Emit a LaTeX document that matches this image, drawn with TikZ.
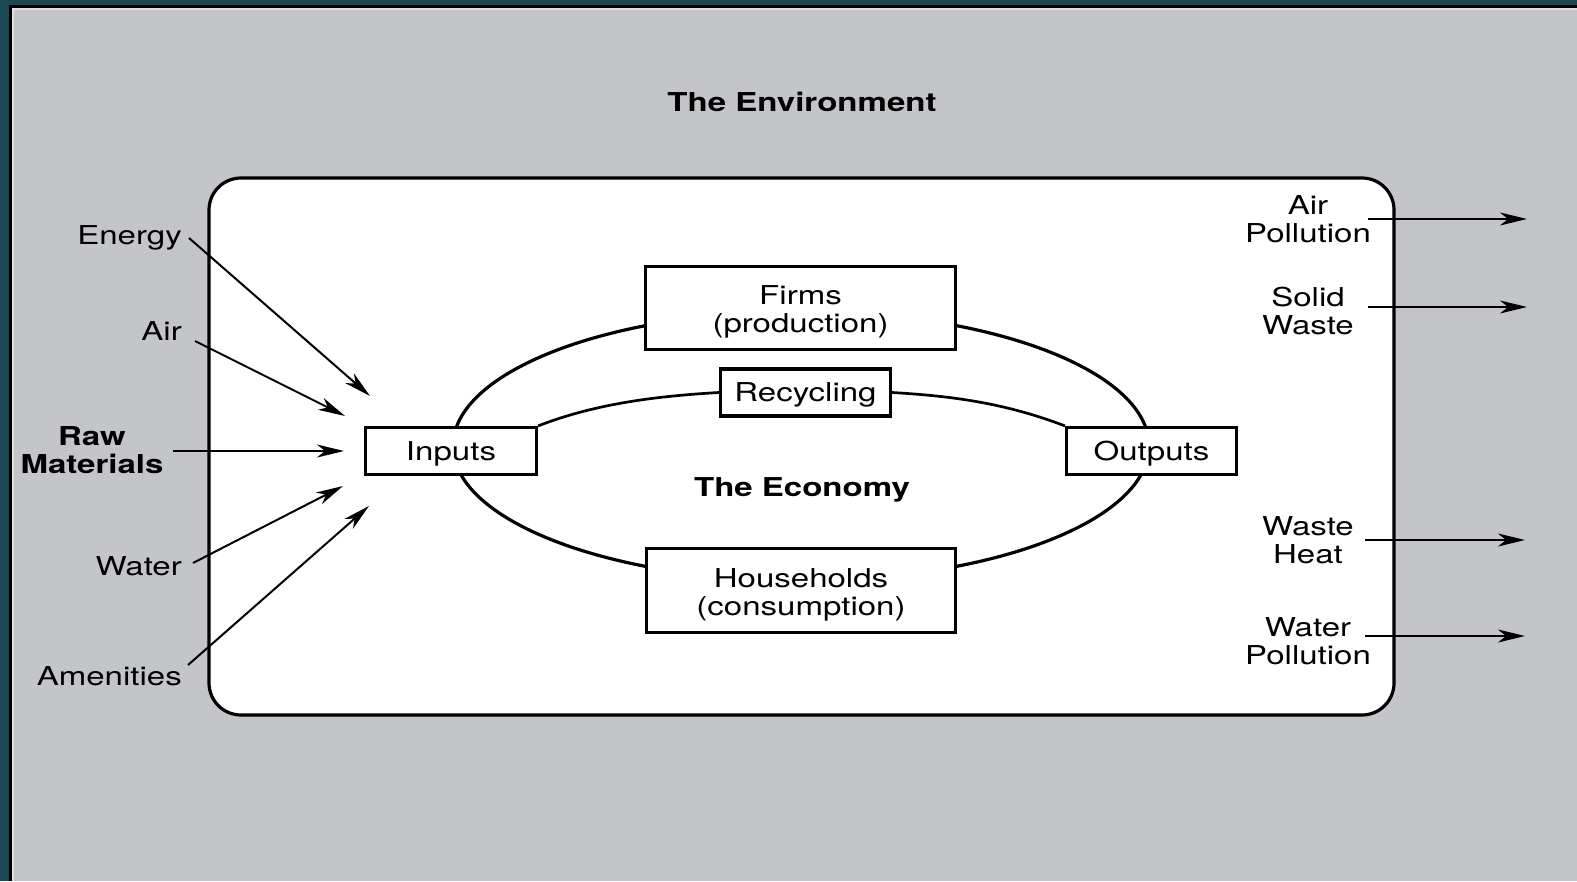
\documentclass[tikz,border=0pt]{standalone}
\usepackage{fontspec}
\setmainfont{TeX Gyre Heros}[FakeStretch=1.27]
\usetikzlibrary{arrows.meta}
\definecolor{panel}{RGB}{196,197,201}
\definecolor{frame}{RGB}{26,72,82}
% taller first line, so that two-line box texts sit centred on their caps
\newcommand\firstlinestrut{\rule{0pt}{27pt}}

\begin{document}
\begin{tikzpicture}[x=1pt,y=-1pt,
  basefont/.style={font=\fontsize{26}{28.2}\selectfont},
  lbl/.style={basefont, inner sep=0pt, align=center},
  boldlbl/.style={font=\fontsize{26}{28.2}\selectfont\bfseries, inner sep=0pt, align=center},
  oneline/.style={text height=18.7pt, text depth=0pt},
  box/.style={draw, line width=3.2pt, fill=white, inner sep=0pt, align=center, basefont},
  flow/.style={line width=2pt, -{Stealth[length=27pt,width=13pt,inset=8pt]}},
  loop/.style={line width=3.2pt},
  inner/.style={line width=2.7pt},
]
\useasboundingbox (0,0) rectangle (1577,881);

% slide background with its dark frame on the left and top
\fill[panel] (0,0) rectangle (1577,881);
\fill[frame] (0,0) rectangle (9,881);
\fill[frame] (0,0) rectangle (1577,5);
\fill[black] (9,5) rectangle (12,881);
\fill[black] (9,5) rectangle (1577,8);
\fill[white!45!panel] (12,8) rectangle (14,881);
\fill[white!45!panel] (12,8) rectangle (1577,10);

% the environment
\node[boldlbl, oneline] (envtitle) at (802,102) {The Environment};
\node[draw, line width=3.2pt, fill=white, rounded corners=32pt,
      minimum width=1185pt, minimum height=537pt] (env) at (801.5,446.5) {};

% circular flow of the economy
\draw[loop] (801,446) ellipse [x radius=348pt, y radius=134.5pt];

\node[box, oneline, minimum width=171pt, minimum height=47pt] (inputs) at (451,451) {Inputs};
\node[box, oneline, minimum width=170pt, minimum height=47pt] (outputs) at (1151.5,451) {Outputs};
\node[box, oneline, minimum width=170pt, minimum height=47pt] (recyc) at (805.5,392.5) {Recycling};

\draw[inner] (inputs.north east) .. controls (597,403) and (659,396) .. (recyc.west);
\draw[inner] (recyc.east) .. controls (952,396) and (1005,403) .. (outputs.north west);

\node[box, minimum width=310pt, minimum height=83pt] (firms) at (800.5,308)
  {\firstlinestrut Firms\\(production)};
\node[box, minimum width=309pt, minimum height=84pt] (house) at (801,590.5)
  {\firstlinestrut Households\\(consumption)};

\node[boldlbl, oneline] (economy) at (802,487) {The Economy};

% resources drawn from the environment
\node[lbl, oneline, anchor=east] (energy) at (182,235) {Energy};
\node[lbl, oneline, anchor=east] (air) at (182,331) {Air};
\node[boldlbl] (raw) at (92,450) {Raw\\Materials};
\node[lbl, oneline, anchor=east] (water) at (182,566) {Water};
\node[lbl, oneline, anchor=east] (amen) at (182,676) {Amenities};

\coordinate (energyIn) at (370,396);
\coordinate (airIn) at (345,416);
\coordinate (rawIn) at (344,451);
\coordinate (waterIn) at (343,486);
\coordinate (amenIn) at (369,506);

\draw[flow] ([shift={(7,3)}]energy.east) -- (energyIn);
\draw[flow] ([shift={(13,10)}]air.east) -- (airIn);
\draw[flow] (173,451) -- (rawIn);
\draw[flow] ([shift={(11,-3)}]water.east) -- (waterIn);
\draw[flow] ([shift={(6,-11)}]amen.east) -- (amenIn);

% residuals returned to the environment
\node[lbl] (airp) at (1308,219) {Air\\Pollution};
\node[lbl] (solid) at (1308,311) {Solid\\Waste};
\node[lbl] (heat) at (1308,540) {Waste\\Heat};
\node[lbl] (waterp) at (1308,641.5) {Water\\Pollution};

\coordinate (airpOut) at (1527,219);
\coordinate (solidOut) at (1527,307);
\coordinate (heatOut) at (1525,540);
\coordinate (waterpOut) at (1525,636);

\draw[flow] (1368,219) -- (airpOut);
\draw[flow] (1368,307) -- (solidOut);
\draw[flow] (1365,540) -- (heatOut);
\draw[flow] (1365,636) -- (waterpOut);
\end{tikzpicture}
\end{document}
